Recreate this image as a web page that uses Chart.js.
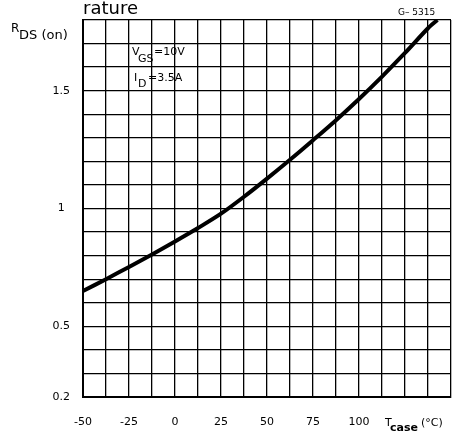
<!DOCTYPE html>
<html lang="en">
<head>
<meta charset="UTF-8">
<title>RDS(on) vs Tcase</title>
<style>
    body { margin: 0; background: #fff; }
    #wrap { width: 459px; height: 431px; }
</style>
<script src="https://cdn.jsdelivr.net/npm/chart.js"></script>
</head>
<body>
<div id="wrap"><canvas id="rds" width="459" height="431"></canvas></div>
<script>
    // values (Tcase in °C, normalised RDS(on))
    const tempC = [-50, -37.5, -25, -12.5, 0, 12.5, 25, 37.5, 50, 62.5, 75, 87.5, 100, 112.5, 125, 137.5, 142.6];
    const rdsOn = [0.65, 0.70, 0.752, 0.805, 0.86, 0.917, 0.978, 1.05, 1.127, 1.207, 1.29, 1.375, 1.465, 1.56, 1.66, 1.765, 1.80];
    const xTickLabels = [-50, -25, 0, 25, 50, 75, 100];
    const yTickLabels = [0.2, 0.5, 1, 1.5];

    const font = '"DejaVu Sans", sans-serif';

    // extra labels from the datasheet page
    const annotations = {
        id: 'annotations',
        afterDraw(chart) {
            const c = chart.ctx;
            c.save();
            c.fillStyle = '#000';
            c.textBaseline = 'alphabetic';
            c.textAlign = 'left';

            c.font = '18px ' + font;
            c.fillText('rature', 83, 14);

            c.font = '9px ' + font;
            c.fillText('G\u2013 5315', 398, 15);

            c.font = '12px ' + font;
            c.fillText('R', 11, 32);
            c.font = '13px ' + font;
            c.fillText('DS (on)', 19, 39);

            c.font = '11px ' + font;
            c.fillText('V', 132, 55);
            c.fillText('GS', 138, 62);
            c.fillText('=10V', 154, 55);
            c.fillText('I', 134, 81);
            c.fillText('D', 138, 87);
            c.fillText('=3.5A', 148, 81);

            c.font = '11px ' + font;
            c.fillText('T', 385, 426);
            c.font = 'bold 11px ' + font;
            c.fillText('case', 390, 431);
            c.font = '11px ' + font;
            c.fillText('(\u00b0C)', 421, 426);
            c.restore();
        }
    };

    new Chart(document.getElementById('rds'), {
        type: 'line',
        data: {
            datasets: [{
                data: tempC.map((t, i) => ({ x: t, y: rdsOn[i] })),
                borderColor: '#000',
                borderWidth: 4,
                pointRadius: 0,
                tension: 0.3,
                fill: false
            }]
        },
        options: {
            responsive: false,
            animation: false,
            layout: { padding: { top: 20, right: 8, left: 0, bottom: 0 } },
            plugins: { legend: { display: false }, tooltip: { enabled: false } },
            scales: {
                x: {
                    type: 'linear',
                    min: -50,
                    max: 150,
                    afterFit: s => { s.height = 34; s.paddingLeft = 0; s.paddingRight = 0; },
                    grid: { color: '#000', lineWidth: 1.3, drawTicks: false },
                    border: { color: '#000', width: 2 },
                    ticks: {
                        stepSize: 12.5,
                        autoSkip: false,
                        maxRotation: 0,
                        padding: 19,
                        color: '#000',
                        font: { family: font, size: 11 },
                        callback: v => xTickLabels.includes(v) ? String(v) : ''
                    }
                },
                y: {
                    min: 0.2,
                    max: 1.8,
                    afterFit: s => { s.width = 83; s.paddingTop = 0; s.paddingBottom = 0; },
                    grid: { color: '#000', lineWidth: 1.3, drawTicks: false },
                    border: { color: '#000', width: 2 },
                    ticks: {
                        stepSize: 0.1,
                        autoSkip: false,
                        padding: 13,
                        crossAlign: 'center',
                        color: '#000',
                        font: { family: font, size: 11 },
                        callback: v => {
                            const r = Math.round(v * 10) / 10;
                            return yTickLabels.includes(r) ? String(r) : '';
                        }
                    }
                }
            }
        },
        plugins: [annotations]
    });
</script>
</body>
</html>
